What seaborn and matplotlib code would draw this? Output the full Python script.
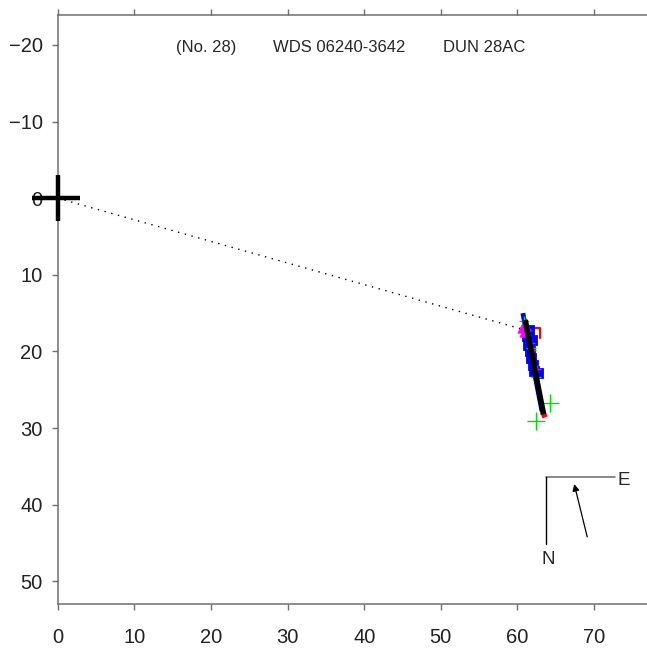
import pandas as pd
import seaborn as sns
import matplotlib.pyplot as plt

# header text
title_parts = ['(No. 28)', 'WDS 06240-3642', 'DUN 28AC']
title_x = [15.4, 28.1, 50.3]
title_y = -19.6

# primary star cross
cross_h_x = [-3.4, 2.9]
cross_h_y = [0.0, 0.0]
cross_v_x = [0.0, 0.0]
cross_v_y = [-3.0, 3.0]

# line from primary to the orbit
node_x = [0.0, 61.0]
node_y = [0.0, 17.2]

# apparent orbit (nearly edge-on)
orbit_x = [61.0, 63.4]
orbit_y = [15.9, 28.2]
fit_x = [60.7, 63.2]
fit_y = [15.0, 27.8]
end_x = [63.3, 63.6]
end_y = [27.9, 28.6]

# measurements
micro_x = [61.4, 61.5, 61.6, 61.8, 61.9, 62.0, 62.1, 62.7, 61.3]
micro_y = [19.1, 17.2, 20.0, 20.8, 18.5, 21.8, 22.6, 22.8, 18.0]
speckle_x = [60.6, 61.1, 60.9]
speckle_y = [17.0, 16.7, 17.4]
speckle_small_x = [61.9, 62.5, 61.7]
speckle_small_y = [19.8, 22.3, 18.9]
photo_x = [64.2, 62.4]
photo_y = [26.7, 29.1]
photo_small_x = [60.9, 61.7, 62.4]
photo_small_y = [16.0, 19.5, 23.3]
oc_x = [62.0, 62.9, 62.9]
oc_y = [16.9, 16.9, 18.2]

# orientation key
key_e_x = [63.7, 72.7]
key_e_y = [36.4, 36.4]
key_n_x = [63.7, 63.7]
key_n_y = [36.4, 45.1]
motion_from = (69.1, 44.2)
motion_to = (67.4, 37.3)

sns.set_style('ticks')
plt.rcParams['font.family'] = ['Liberation Sans', 'DejaVu Sans']

fig = plt.figure(figsize=(6.47, 6.51), dpi=100)
ax = fig.add_axes([0.0892, 0.0717, 0.9108, 0.9052])

sns.lineplot(x=node_x, y=node_y, sort=False, estimator=None, color='black',
             lw=1, linestyle=(0, (1, 4)), ax=ax)
sns.lineplot(x=cross_h_x, y=cross_h_y, sort=False, estimator=None, color='black',
             lw=3.2, solid_capstyle='butt', ax=ax, clip_on=False, zorder=5)
sns.lineplot(x=cross_v_x, y=cross_v_y, sort=False, estimator=None, color='black',
             lw=3.2, solid_capstyle='butt', ax=ax, clip_on=False, zorder=5)

sns.lineplot(x=fit_x, y=fit_y, sort=False, estimator=None, color='blue', lw=3.5,
             solid_capstyle='butt', ax=ax)
sns.scatterplot(x=micro_x, y=micro_y, marker='s', color='blue', edgecolor='blue',
                s=55, ax=ax, zorder=3)
sns.scatterplot(x=speckle_x, y=speckle_y, marker='^', color='magenta',
                edgecolor='magenta', s=45, ax=ax, zorder=3)
sns.scatterplot(x=speckle_small_x, y=speckle_small_y, marker='+', color='magenta',
                s=40, linewidth=1, ax=ax, zorder=3)
sns.scatterplot(x=photo_small_x, y=photo_small_y, marker='+', color='#00dd00',
                s=60, linewidth=1, ax=ax, zorder=3)
sns.scatterplot(x=photo_x, y=photo_y, marker='+', color='#00dd00',
                s=170, linewidth=1, ax=ax, zorder=3)
sns.lineplot(x=oc_x, y=oc_y, sort=False, estimator=None, color='red', lw=1.6, ax=ax)
sns.lineplot(x=end_x, y=end_y, sort=False, estimator=None, color='red', lw=4,
             solid_capstyle='butt', ax=ax)
sns.lineplot(x=orbit_x, y=orbit_y, sort=False, estimator=None, color='black', lw=4,
             solid_capstyle='butt', ax=ax, zorder=4)

sns.lineplot(x=key_e_x, y=key_e_y, sort=False, estimator=None, color='#777777',
             lw=1.2, ax=ax)
sns.lineplot(x=key_n_x, y=key_n_y, sort=False, estimator=None, color='black',
             lw=1.0, ax=ax)
ax.annotate('', xy=motion_to, xytext=motion_from,
            arrowprops=dict(arrowstyle='-|>', color='black', lw=0.9,
                            mutation_scale=10, shrinkA=0, shrinkB=0))
ax.text(key_e_x[1] + 0.3, key_e_y[0] + 0.4, 'E', fontsize=13.5, ha='left', va='center')
ax.text(key_n_x[0] + 0.3, key_n_y[1] + 2.0, 'N', fontsize=13.5, ha='center', va='center')

for part, px in zip(title_parts, title_x):
    ax.text(px, title_y, part, fontsize=12, ha='left', va='center')

ax.set_xlim(0, 76.9)
ax.set_ylim(53.0, -23.9)
ax.set_xticks(range(0, 80, 10))
ax.set_yticks(range(-20, 60, 10))

gray = '#6f6f6f'
for side in ['left', 'top', 'bottom']:
    ax.spines[side].set_color(gray)
    ax.spines[side].set_linewidth(1.1)
ax.spines['right'].set_visible(False)
ax.tick_params(axis='x', which='both', top=True, bottom=True, labeltop=False,
               direction='out', length=4.3, width=1, color=gray, pad=13,
               labelsize=14.5, labelcolor='#222222')
ax.tick_params(axis='y', direction='out', length=4.3, width=1, color=gray,
               pad=6.5, labelsize=14.5, labelcolor='#222222')
ax.set_xlabel('')
ax.set_ylabel('')

fig.savefig('out.png', dpi=100)
